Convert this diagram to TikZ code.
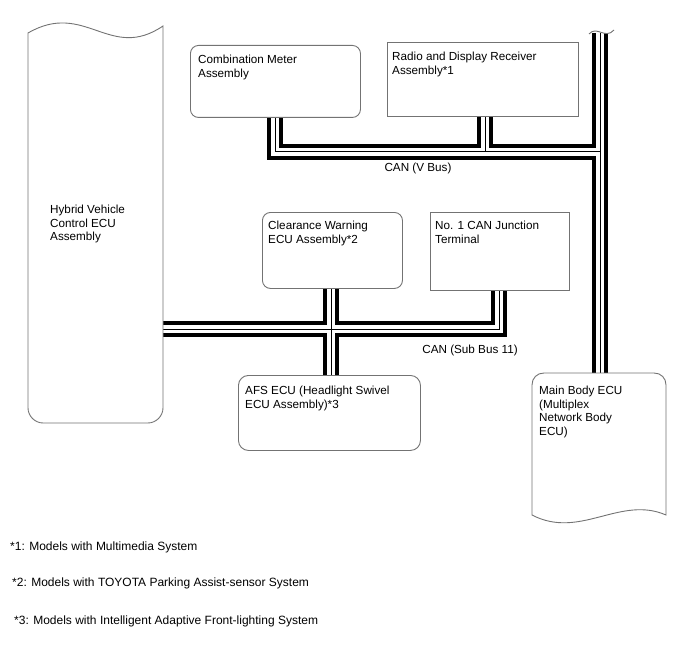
\documentclass[tikz,border=0pt]{standalone}
\usepackage{fontspec}
\setmainfont{Liberation Sans}
\begin{document}
\begin{tikzpicture}[x=1pt,y=-1pt,
  outline/.style={draw=black!55, line width=0.9pt},
  rbox/.style={outline, fill=white, rounded corners=8pt, anchor=north west, inner sep=0pt},
  sbox/.style={outline, fill=white, anchor=north west, inner sep=0pt},
  txt/.style={anchor=north west, inner sep=0pt, align=left, font=\fontsize{11.7}{13.6}\selectfont},
  note/.style={anchor=west, inner sep=0pt, font=\fontsize{12}{14}\selectfont},
  lbl/.style={inner sep=0pt, font=\fontsize{11.7}{13.6}\selectfont},
  busblack/.style={line width=15.5pt, line join=miter},
  buswhite/.style={white, line width=8pt, line join=miter},
  buscore/.style={line width=1pt, line join=miter},
]
\useasboundingbox (0,0) rectangle (688,658);

% connection points
\coordinate (cmB) at (275,117);
\coordinate (cmC) at (275,152);
\coordinate (rdB) at (485,116);
\coordinate (rdC) at (485,152);
\coordinate (vC) at (600,152);
\coordinate (vtop) at (600,33);
\coordinate (mbtop) at (600,373);
\coordinate (hvR) at (163,329);
\coordinate (jtC) at (499,329);
\coordinate (jtB) at (499,290);
\coordinate (cwB) at (331,288);
\coordinate (afsT) at (331,375);

% buses
\foreach \s in {busblack, buswhite, buscore} {
  \draw[\s] (cmB) -- (cmC) -- (vC);
  \draw[\s] (rdB) -- (rdC);
  \draw[\s] (vtop) -- (mbtop);
  \draw[\s] (hvR) -- (jtC) -- (jtB);
  \draw[\s] (cwB) -- (afsT);
}

% bus top cap
\draw[outline] (589,34) .. controls (597,25) and (605,40) .. (614,30);

% boxes
\node[rbox, minimum width=170pt, minimum height=72pt] (cm) at (190,45) {};
\node[sbox, minimum width=191pt, minimum height=74pt] (rd) at (387,42) {};
\node[rbox, minimum width=140pt, minimum height=76pt] (cw) at (262,212) {};
\node[sbox, minimum width=139pt, minimum height=78pt] (jt) at (430,212) {};
\node[rbox, rounded corners=10pt, minimum width=182pt, minimum height=75pt] (afs) at (238,375) {};

% hybrid ECU
\draw[outline, fill=white] (28,33) .. controls (85,0) and (110,62) .. (163,26) -- (163,408)
  .. controls (163,416) and (156,423) .. (148,423) -- (43,423)
  .. controls (35,423) and (28,416) .. (28,408) -- cycle;

% main body ECU
\draw[outline, fill=white] (532,515) -- (532,385) .. controls (532,378) and (537,373) .. (544,373)
  -- (654,373) .. controls (661,373) and (666,378) .. (666,385) -- (666,515)
  .. controls (620,495) and (580,540) .. (532,515) -- cycle;

% texts
\node[txt] (cmt) at (198,55) {Combination Meter\\Assembly};
\node[txt] (rdt) at (392,52) {Radio and Display Receiver\\Assembly*1};
\node[txt] (cwt) at (268,221) {Clearance Warning\\ECU Assembly*2};
\node[txt] (jtt) at (435,221) {No. 1 CAN Junction\\Terminal};
\node[txt] (afst) at (245,386) {AFS ECU (Headlight Swivel\\ECU Assembly)*3};
\node[txt] (hvt) at (50,205) {Hybrid Vehicle\\Control ECU\\Assembly};
\node[txt] (mbt) at (539,386) {Main Body ECU\\(Multiplex\\Network Body\\ECU)};
\node[lbl] (vbus) at (418,168) {CAN (V Bus)};
\node[lbl] (sbus) at (470,350) {CAN (Sub Bus 11)};

% footnotes
\node[note] (f1) at (10,547) {*1: Models with Multimedia System};
\node[note] (f2) at (12,583) {*2: Models with TOYOTA Parking Assist-sensor System};
\node[note] (f3) at (14,621) {*3: Models with Intelligent Adaptive Front-lighting System};
\end{tikzpicture}
\end{document}
